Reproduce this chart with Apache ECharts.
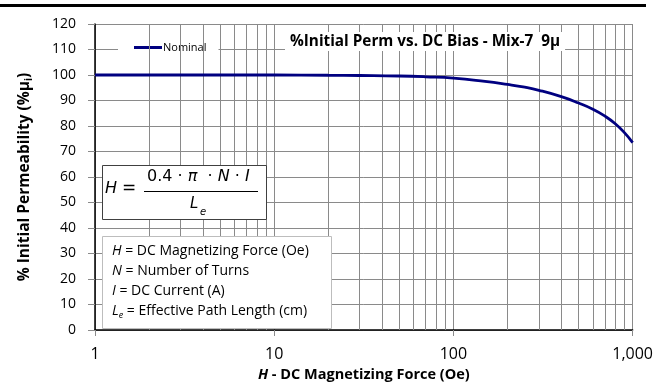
<!DOCTYPE html>
<html><head><meta charset="utf-8">
<script src="https://cdn.jsdelivr.net/npm/echarts@6/dist/echarts.min.js"></script>
<style>html,body{margin:0;padding:0;background:#fff}#c{width:656px;height:388px}</style>
</head><body><div id="c"></div>
<script>
// ---- data ----
const hValues = [1, 2, 5, 10, 20, 30, 50, 70, 100, 150, 200, 250, 300, 400, 500, 600, 700, 800, 900, 1000];
const permValues = [100, 100, 100, 100, 99.9, 99.8, 99.6, 99.3, 98.8, 97.5, 96.3, 95.2, 94.0, 91.5, 89.0, 86.6, 83.9, 80.9, 77.4, 73.5];
const minorGridH = [2, 3, 4, 5, 6, 7, 8, 9, 20, 30, 40, 50, 60, 70, 80, 90, 200, 300, 400, 500, 600, 700, 800, 900];
const xTickLabels = { 1: '1', 10: '10', 100: '100', 1000: '1,000' };
const seriesName = 'Nominal';
const titleText = '%Initial Perm vs. DC Bias - Mix-7  9μ';
const legendLines = [
  ['H', ' = DC Magnetizing Force (Oe)'],
  ['N', ' = Number of Turns'],
  ['I', ' = DC Current (A)'],
  ['L', ' = Effective Path Length (cm)']
];

const FONT = 'Open Sans';
const GRID = '#8a8a8a';

const chart = echarts.init(document.getElementById('c'), null, { renderer: 'canvas' });

const descTexts = legendLines.map((l, i) => ({
  type: 'text',
  left: 112, top: 244 + i * 20,
  z: 102,
  style: {
    text: '{v|' + l[0] + '}' + (l[0] === 'L' ? '{s|e}' : '') + '{t|' + l[1] + '}',
    rich: {
      v: { fontFamily: FONT, fontSize: 14, fontStyle: 'italic', fill: '#000' },
      s: { fontFamily: FONT, fontSize: 9, fontStyle: 'italic', fill: '#000', padding: [9, 0, 0, 0] },
      t: { fontFamily: FONT, fontSize: 14, fill: '#000' }
    }
  }
}));

chart.setOption({
  animation: false,
  backgroundColor: '#fff',
  grid: { left: 95, right: 22, top: 24, bottom: 58 },
  title: {
    text: titleText,
    left: 285, top: 32,
    padding: [2, 5],
    backgroundColor: '#fff',
    textStyle: { fontFamily: FONT, fontSize: 15.3, fontWeight: 'bold', color: '#000' }
  },
  legend: {
    data: [seriesName],
    left: 118, top: 33,
    padding: [9, 12, 9, 16],
    backgroundColor: '#fff',
    itemWidth: 28, itemHeight: 3, itemGap: 0,
    icon: 'rect',
    textStyle: { fontFamily: FONT, fontSize: 11, color: '#000', padding: [0, 0, 0, -4] }
  },
  xAxis: {
    type: 'log', logBase: 10, min: 1, max: 1000,
    name: '{i|H}{b| - DC Magnetizing Force (Oe)}',
    nameLocation: 'middle', nameGap: 31,
    nameTextStyle: {
      rich: {
        i: { fontFamily: FONT, fontSize: 14.5, fontWeight: 'bold', fontStyle: 'italic', color: '#000' },
        b: { fontFamily: FONT, fontSize: 14.5, fontWeight: 'bold', color: '#000' }
      }
    },
    axisLine: { show: true, lineStyle: { color: '#000', width: 1.5 } },
    axisTick: { show: true, length: 6, lineStyle: { color: GRID } },
    axisLabel: {
      margin: 16, fontFamily: FONT, fontSize: 16, color: '#000',
      formatter: v => xTickLabels[Math.round(v)] || ''
    },
    splitLine: { show: true, lineStyle: { color: GRID, width: 1 } },
    minorTick: { show: false }
  },
  yAxis: {
    type: 'value', min: 0, max: 120, interval: 10,
    name: '{b|% Initial Permeability (%μ}{s|i}{b|)}',
    nameLocation: 'middle', nameGap: 61, nameRotate: 90,
    nameTextStyle: {
      rich: {
        b: { fontFamily: FONT, fontSize: 15.5, fontWeight: 'bold', color: '#000' },
        s: { fontFamily: FONT, fontSize: 10, fontWeight: 'bold', color: '#000', padding: [8, 0, 0, 0] }
      }
    },
    axisLine: { show: true, lineStyle: { color: '#000', width: 1.5 } },
    axisTick: { show: true, length: 7, lineStyle: { color: GRID } },
    axisLabel: { margin: 19, fontFamily: FONT, fontSize: 14, color: '#000' },
    splitLine: { show: true, lineStyle: { color: GRID, width: 1 } }
  },
  series: [
    {
      type: 'line', name: '_minor', data: [], z: 1, silent: true,
      markLine: {
        silent: true, symbol: ['none', 'none'], animation: false,
        label: { show: false },
        lineStyle: { color: GRID, width: 1, type: 'solid' },
        emphasis: { disabled: true },
        data: minorGridH.map(v => ({ xAxis: v }))
      }
    },
    {
      type: 'line', name: seriesName, z: 5,
      data: hValues.map((h, i) => [h, permValues[i]]),
      smooth: true, symbol: 'none',
      lineStyle: { color: '#000080', width: 2.8 },
      itemStyle: { color: '#000080' }
    }
  ],
  graphic: [
    { type: 'rect', shape: { x: 0, y: 4, width: 646, height: 3 }, style: { fill: '#000' }, z: 100 },
    // formula box
    { type: 'rect', shape: { x: 102.5, y: 165.5, width: 164, height: 54 }, style: { fill: '#fff', stroke: '#404040', lineWidth: 1 }, z: 100 },
    { type: 'text', left: 105, top: 181, z: 102, style: { text: 'H', fontFamily: 'DejaVu Sans', fontSize: 16, fontStyle: 'italic', fill: '#000' } },
    { type: 'text', left: 122, top: 180, z: 102, style: { text: '=', fontFamily: 'DejaVu Sans', fontSize: 17, fill: '#000' } },
    { type: 'text', left: 147, top: 169, z: 102, style: { text: '0.4 · {i|π}  · {i|N} · {i|I}', fontFamily: 'DejaVu Sans', fontSize: 16, fill: '#000', rich: { i: { fontFamily: 'DejaVu Sans', fontSize: 16, fontStyle: 'italic', fill: '#000' } } } },
    { type: 'line', shape: { x1: 144, y1: 191.5, x2: 258, y2: 191.5 }, style: { stroke: '#000', lineWidth: 1 }, z: 102 },
    { type: 'text', left: 190, top: 197, z: 102, style: { text: 'L', fontFamily: 'DejaVu Sans', fontSize: 15, fontStyle: 'italic', fill: '#000' } },
    { type: 'text', left: 200, top: 207, z: 102, style: { text: 'e', fontFamily: 'DejaVu Sans', fontSize: 10, fontStyle: 'italic', fill: '#000' } },
    // description box
    { type: 'rect', shape: { x: 102.5, y: 236.5, width: 229, height: 92 }, style: { fill: '#fff', stroke: '#bdbdbd', lineWidth: 1 }, z: 100 }
  ].concat(descTexts)
});
</script>
</body></html>
